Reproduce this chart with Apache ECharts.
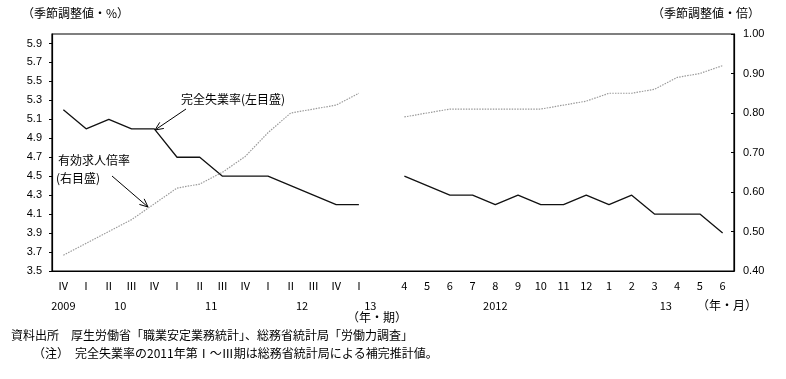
<!DOCTYPE html>
<html><head><meta charset="utf-8">
<script src="https://cdn.jsdelivr.net/npm/echarts@6/dist/echarts.min.js"></script>
<style>html,body{margin:0;padding:0;background:#fff}#c{width:786px;height:379px}</style>
</head><body><div id="c"></div>
<script>
// ---- data ----
var quarterLabels = ['Ⅳ','Ⅰ','Ⅱ','Ⅲ','Ⅳ','Ⅰ','Ⅱ','Ⅲ','Ⅳ','Ⅰ','Ⅱ','Ⅲ','Ⅳ','Ⅰ'];
var monthLabels = ['4','5','6','7','8','9','10','11','12','1','2','3','4','5','6'];
var unemploymentQuarterly = [5.2,5.0,5.1,5.0,5.0,4.7,4.7,4.5,4.5,4.5,4.4,4.3,4.2,4.2];
var unemploymentMonthly = [4.5,4.4,4.3,4.3,4.2,4.3,4.2,4.2,4.3,4.2,4.3,4.1,4.1,4.1,3.9];
var jobsRatioQuarterly = [0.44,0.47,0.50,0.53,0.57,0.61,0.62,0.65,0.69,0.75,0.80,0.81,0.82,0.85];
var jobsRatioMonthly = [0.79,0.80,0.81,0.81,0.81,0.81,0.81,0.82,0.83,0.85,0.85,0.86,0.89,0.90,0.92];
// year labels on a half-slot axis (index = 2*category+1 is a category centre, even = between)
var yearLabelSlots = {1:'2009', 6:'10', 14:'11', 22:'12', 28:'13', 39:'2012', 54:'13'};
var leftTicks = {min:3.5, max:6.0, step:0.2};
var rightTicks = {min:0.4, max:1.0, step:0.1};

// ---- build ----
var categories = quarterLabels.concat(['']).concat(monthLabels);
var unempData = unemploymentQuarterly.concat([null]).concat(unemploymentMonthly);
var jobsData = jobsRatioQuarterly.concat([null]).concat(jobsRatioMonthly);
var halfSlots = [];
for (var j = 0; j <= categories.length * 2; j++) halfSlots.push(yearLabelSlots[j] || '');

var FONT = '"Noto Sans CJK JP", "Noto Sans", sans-serif';
var NUMFONT = '"Liberation Sans", Arial, sans-serif';

var chart = echarts.init(document.getElementById('c'), null, {renderer:'canvas'});
function arrowHead(tx, ty, fx, fy) {
  var a = Math.atan2(ty - fy, tx - fx), L = 9, s = 0.42;
  return [[tx - L*Math.cos(a - s), ty - L*Math.sin(a - s)], [tx, ty], [tx - L*Math.cos(a + s), ty - L*Math.sin(a + s)]];
}
var lineStyleBlk = {stroke:'#000', lineWidth:1};
var txt = {fill:'#000', font:'12px ' + FONT};
chart.setOption({
  animation:false,
  backgroundColor:'#fff',
  grid:{left:52, right:52, top:34, bottom:108, show:true, borderColor:'#000', borderWidth:1.2, backgroundColor:'transparent'},
  xAxis:[{
    type:'category', data:categories, boundaryGap:true,
    axisLine:{show:true, lineStyle:{color:'#000', width:1.2}}, axisTick:{show:false},
    axisLabel:{interval:0, color:'#000', fontSize:11, fontFamily:FONT, margin:9}
  },{
    type:'category', data:halfSlots, boundaryGap:false, position:'bottom',
    axisLine:{show:false}, axisTick:{show:false}, splitLine:{show:false},
    axisLabel:{interval:0, color:'#000', fontSize:11, fontFamily:FONT, margin:29, showMinLabel:true, showMaxLabel:true}
  }],
  yAxis:[{
    type:'value', min:leftTicks.min, max:leftTicks.max, interval:leftTicks.step, position:'left',
    axisLine:{show:true, lineStyle:{color:'#000', width:1.2}},
    axisTick:{show:true, length:3, lineStyle:{color:'#000'}},
    splitLine:{show:false},
    axisLabel:{color:'#000', fontSize:11, fontFamily:NUMFONT, margin:10, showMaxLabel:false,
      formatter:function(v){return v.toFixed(1);}}
  },{
    type:'value', min:rightTicks.min, max:rightTicks.max, interval:rightTicks.step, position:'right',
    axisLine:{show:true, lineStyle:{color:'#000', width:1.2}},
    axisTick:{show:true, inside:true, length:3, lineStyle:{color:'#000'}},
    splitLine:{show:false},
    axisLabel:{color:'#000', fontSize:11, fontFamily:NUMFONT, margin:9,
      formatter:function(v){return v.toFixed(2);}}
  }],
  series:[{
    name:'完全失業率', type:'line', xAxisIndex:0, yAxisIndex:0, data:unempData,
    symbol:'none', connectNulls:false, lineStyle:{color:'#111', width:1.3}
  },{
    name:'有効求人倍率', type:'line', xAxisIndex:0, yAxisIndex:1, data:jobsData,
    symbol:'none', connectNulls:false, lineStyle:{color:'#9a9a9a', width:1.2, type:[1.5,1.2]}
  }],
  graphic:[
    {type:'text', left:22, top:7, style:{text:'（季節調整値・%）', fill:'#000', font:'12px ' + FONT}},
    {type:'text', right:26, top:7, style:{text:'（季節調整値・倍）', fill:'#000', font:'12px ' + FONT}},
    {type:'text', x:181, y:93, style:Object.assign({text:'完全失業率(左目盛)'}, txt)},
    {type:'polyline', shape:{points:[[186,109],[155,130]]}, style:lineStyleBlk},
    {type:'polyline', shape:{points:arrowHead(155,130,186,109)}, style:lineStyleBlk},
    {type:'text', x:58, y:154, style:Object.assign({text:'有効求人倍率'}, txt)},
    {type:'text', x:56, y:172, style:Object.assign({text:'(右目盛)'}, txt)},
    {type:'polyline', shape:{points:[[112,176],[148,207]]}, style:lineStyleBlk},
    {type:'polyline', shape:{points:arrowHead(148,207,112,176)}, style:lineStyleBlk},
    {type:'text', x:347, y:311, style:{text:'（年・期）', fill:'#000', font:'12px ' + FONT}},
    {type:'text', x:697, y:299, style:{text:'（年・月）', fill:'#000', font:'12px ' + FONT}},
    {type:'text', x:11, y:329, style:{text:'資料出所　厚生労働省「職業安定業務統計」、総務省統計局「労働力調査」', fill:'#000', font:'12px ' + FONT}},
    {type:'text', x:33, y:347, style:{text:'（注）　完全失業率の2011年第Ⅰ～Ⅲ期は総務省統計局による補完推計値。', fill:'#000', font:'12px ' + FONT}}
  ]
});
</script></body></html>
